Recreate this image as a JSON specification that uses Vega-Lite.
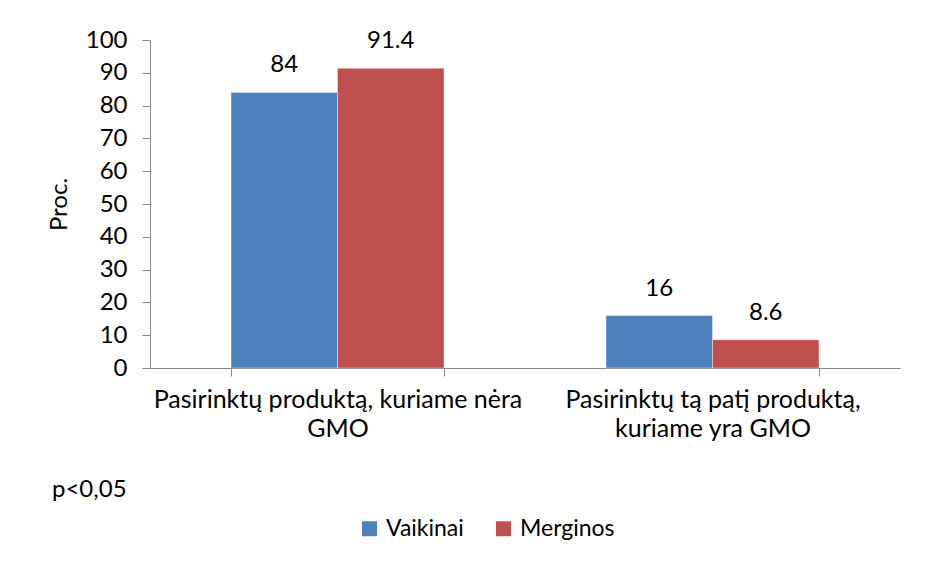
{
  "$schema": "https://vega.github.io/schema/vega-lite/v6.json",
  "width": 750,
  "height": 328,
  "autosize": {"type": "none"},
  "padding": {"left": 150, "top": 40, "right": 42, "bottom": 193},
  "background": "#ffffff",
  "config": {
    "font": "Lato",
    "view": {"stroke": null},
    "axis": {"labelFont": "Lato", "titleFont": "Lato", "labelColor": "#000000", "titleColor": "#000000", "domainColor": "#868686", "tickColor": "#868686", "grid": false}
  },
  "title": {
    "text": "p<0,05",
    "orient": "bottom",
    "anchor": "start",
    "frame": "group",
    "font": "Lato",
    "fontSize": 24,
    "fontWeight": "normal",
    "color": "#000000",
    "dx": -98,
    "offset": -63
  },
  "data": {
    "values": [
      {"cat": "Pasirinktų produktą, kuriame nėra GMO", "sex": "Vaikinai", "value": 84},
      {"cat": "Pasirinktų produktą, kuriame nėra GMO", "sex": "Merginos", "value": 91.4},
      {"cat": "Pasirinktų tą patį produktą, kuriame yra GMO", "sex": "Vaikinai", "value": 16},
      {"cat": "Pasirinktų tą patį produktą, kuriame yra GMO", "sex": "Merginos", "value": 8.6}
    ]
  },
  "encoding": {
    "x": {
      "field": "cat",
      "type": "nominal",
      "sort": null,
      "scale": {"paddingInner": 0.432, "paddingOuter": 0.216},
      "axis": {
        "title": null,
        "labelAngle": 0,
        "labelFontSize": 25,
        "labelLineHeight": 29,
        "labelPadding": 11,
        "labelBaseline": "top",
        "labelLimit": 500,
        "tickBand": "extent",
        "tickSize": 8,
        "labelExpr": "indexof(datum.value + '', 'nėra') >= 0 ? ['Pasirinktų produktą, kuriame nėra', 'GMO'] : indexof(datum.value + '', 'yra GMO') >= 0 ? ['Pasirinktų tą patį produktą,', 'kuriame yra GMO'] : ''"
      }
    },
    "xOffset": {"field": "sex", "type": "nominal", "sort": ["Vaikinai", "Merginos"], "scale": {"paddingInner": 0, "paddingOuter": 0}},
    "y": {
      "field": "value",
      "type": "quantitative",
      "scale": {"domain": [0, 100], "nice": false},
      "axis": {
        "title": "Proc.",
        "titleFontSize": 24,
        "titleFontWeight": "normal",
        "titlePadding": 14,
        "values": [0, 10, 20, 30, 40, 50, 60, 70, 80, 90, 100],
        "labelFontSize": 24,
        "labelPadding": 15,
        "tickSize": 8
      }
    }
  },
  "layer": [
    {
      "mark": {"type": "bar", "stroke": "#ffffff", "strokeOpacity": 0.4, "strokeWidth": 1},
      "encoding": {
        "color": {
          "field": "sex",
          "type": "nominal",
          "sort": ["Vaikinai", "Merginos"],
          "scale": {"domain": ["Vaikinai", "Merginos"], "range": ["#4F81BD", "#C0504D"]},
          "legend": {
            "title": null,
            "orient": "none",
            "direction": "horizontal",
            "legendX": 208,
            "legendY": 477,
            "padding": 0,
            "symbolType": "square",
            "symbolSize": 225,
            "symbolStrokeWidth": 0,
            "labelFontSize": 23,
            "labelFont": "Lato",
            "labelColor": "#000000",
            "labelOffset": 5,
            "columnPadding": 28
          }
        }
      }
    },
    {
      "mark": {"type": "text", "fontSize": 24, "dy": -20, "baseline": "alphabetic", "color": "#000000"},
      "encoding": {"text": {"field": "value", "type": "quantitative"}}
    }
  ]
}
